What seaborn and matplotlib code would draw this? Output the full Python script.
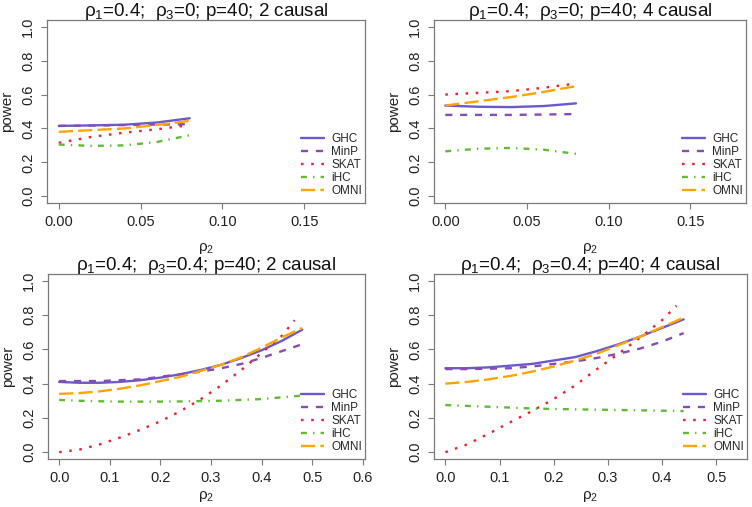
import matplotlib
matplotlib.use("Agg")
import matplotlib.pyplot as plt
import numpy as np
import pandas as pd
import seaborn as sns
from matplotlib.lines import Line2D

# ---------------- data ----------------
methods = ["GHC", "MinP", "SKAT", "iHC", "OMNI"]

# panel 1: rho1=0.4, rho3=0, 2 causal
p1_x = [0.00, 0.02, 0.04, 0.06, 0.08]
p1_ghc = [0.415, 0.418, 0.422, 0.435, 0.460]
p1_minp = [0.415, 0.417, 0.420, 0.423, 0.425]
p1_skat = [0.315, 0.350, 0.375, 0.395, 0.420]
p1_ihc = [0.305, 0.297, 0.300, 0.320, 0.360]
p1_omni = [0.380, 0.390, 0.400, 0.420, 0.445]

# panel 2: rho1=0.4, rho3=0, 4 causal
p2_x = [0.00, 0.02, 0.04, 0.06, 0.08]
p2_ghc = [0.535, 0.528, 0.526, 0.532, 0.548]
p2_minp = [0.480, 0.480, 0.480, 0.482, 0.485]
p2_skat = [0.600, 0.610, 0.620, 0.640, 0.665]
p2_ihc = [0.265, 0.280, 0.285, 0.275, 0.250]
p2_omni = [0.535, 0.560, 0.585, 0.615, 0.650]

# panel 3: rho1=0.4, rho3=0.4, 2 causal
p3_x = [0.00, 0.04, 0.08, 0.12, 0.16, 0.20, 0.24, 0.28, 0.32, 0.36, 0.40, 0.44, 0.48]
p3_ghc = [0.410, 0.405, 0.405, 0.410, 0.420, 0.435, 0.455, 0.480, 0.510, 0.550, 0.595, 0.650, 0.715]
p3_minp = [0.415, 0.415, 0.415, 0.420, 0.425, 0.440, 0.455, 0.470, 0.490, 0.515, 0.550, 0.590, 0.630]
p3_ihc = [0.305, 0.300, 0.297, 0.295, 0.295, 0.295, 0.296, 0.298, 0.300, 0.305, 0.310, 0.320, 0.330]
p3_omni = [0.340, 0.345, 0.355, 0.370, 0.390, 0.415, 0.440, 0.475, 0.510, 0.555, 0.610, 0.670, 0.725]
p3_skat_x = [0.00, 0.04, 0.08, 0.12, 0.16, 0.20, 0.24, 0.28, 0.32, 0.36, 0.40, 0.44, 0.465]
p3_skat = [0.000, 0.015, 0.045, 0.085, 0.130, 0.180, 0.240, 0.310, 0.390, 0.480, 0.580, 0.680, 0.770]

# panel 4: rho1=0.4, rho3=0.4, 4 causal
p4_x = [0.00, 0.04, 0.08, 0.12, 0.16, 0.20, 0.24, 0.28, 0.32, 0.36, 0.40, 0.44]
p4_ghc = [0.490, 0.490, 0.495, 0.505, 0.515, 0.535, 0.555, 0.590, 0.630, 0.675, 0.725, 0.775]
p4_minp = [0.485, 0.485, 0.487, 0.490, 0.500, 0.515, 0.530, 0.550, 0.575, 0.605, 0.645, 0.695]
p4_ihc = [0.275, 0.270, 0.265, 0.260, 0.255, 0.252, 0.250, 0.248, 0.246, 0.244, 0.242, 0.240]
p4_omni = [0.400, 0.410, 0.425, 0.445, 0.470, 0.500, 0.535, 0.575, 0.625, 0.675, 0.730, 0.785]
p4_skat_x = [0.00, 0.04, 0.08, 0.12, 0.16, 0.20, 0.24, 0.28, 0.32, 0.36, 0.40, 0.427]
p4_skat = [0.000, 0.045, 0.108, 0.175, 0.240, 0.310, 0.390, 0.485, 0.575, 0.670, 0.770, 0.855]

titles = [
    r"$\rho_1$=0.4;  $\rho_3$=0; p=40; 2 causal",
    r"$\rho_1$=0.4;  $\rho_3$=0; p=40; 4 causal",
    r"$\rho_1$=0.4;  $\rho_3$=0.4; p=40; 2 causal",
    r"$\rho_1$=0.4;  $\rho_3$=0.4; p=40; 4 causal",
]
top_xticks = [0.00, 0.05, 0.10, 0.15]
top_xticklabels = ["0.00", "0.05", "0.10", "0.15"]
p3_xticks = [0.0, 0.1, 0.2, 0.3, 0.4, 0.5, 0.6]
p3_xticklabels = ["0.0", "0.1", "0.2", "0.3", "0.4", "0.5", "0.6"]
p4_xticks = [0.0, 0.1, 0.2, 0.3, 0.4, 0.5]
p4_xticklabels = ["0.0", "0.1", "0.2", "0.3", "0.4", "0.5"]
yticks = [0.0, 0.2, 0.4, 0.6, 0.8, 1.0]
yticklabels = ["0.0", "0.2", "0.4", "0.6", "0.8", "1.0"]

# ---------------- style ----------------
sns.set_theme(style="white")
plt.rcParams["font.family"] = ["Liberation Sans", "DejaVu Sans"]
plt.rcParams["mathtext.fontset"] = "custom"
plt.rcParams["mathtext.rm"] = "Liberation Sans"
plt.rcParams["mathtext.it"] = "Liberation Sans"
plt.rcParams["mathtext.bf"] = "Liberation Sans:bold"

palette = {"GHC": "#6A5ACD", "MinP": "#8B4BB5", "SKAT": "#E8262D",
           "iHC": "#62BB35", "OMNI": "#FFA500"}
dash_map = {"GHC": "", "MinP": (3, 3.3), "SKAT": (1.1, 3.2),
            "iHC": (2.5, 2.6, 0.6, 2.6), "OMNI": (6, 2.2)}
LW = 1.7
spine_col = "#7a7a7a"

W, H = 752, 507
fig = plt.figure(figsize=(W / 100, H / 100), dpi=100)


def box(l, r, t, b):
    return [l / W, (H - b) / H, (r - l) / W, (b - t) / H]


def make_df(x, ghc, minp, skat_x, skat, ihc, omni):
    rows = []
    for m, xs, ys in [("GHC", x, ghc), ("MinP", x, minp), ("SKAT", skat_x, skat),
                      ("iHC", x, ihc), ("OMNI", x, omni)]:
        for a, b in zip(xs, ys):
            rows.append({"method": m, "rho2": a, "power": b})
    return pd.DataFrame(rows)


panels = [
    dict(rect=box(47, 365, 20, 203), xlim=(-0.0072, 0.1872), xt=top_xticks, xtl=top_xticklabels,
         xlab_y=248, df=make_df(p1_x, p1_ghc, p1_minp, p1_x, p1_skat, p1_ihc, p1_omni)),
    dict(rect=box(434, 746, 20, 203), xlim=(-0.0069, 0.1840), xt=top_xticks, xtl=top_xticklabels,
         xlab_y=248, df=make_df(p2_x, p2_ghc, p2_minp, p2_x, p2_skat, p2_ihc, p2_omni)),
    dict(rect=box(48, 365, 274, 459), xlim=(-0.022, 0.604), xt=p3_xticks, xtl=p3_xticklabels,
         xlab_y=497, df=make_df(p3_x, p3_ghc, p3_minp, p3_skat_x, p3_skat, p3_ihc, p3_omni)),
    dict(rect=box(434, 747, 274, 459), xlim=(-0.021, 0.557), xt=p4_xticks, xtl=p4_xticklabels,
         xlab_y=497, df=make_df(p4_x, p4_ghc, p4_minp, p4_skat_x, p4_skat, p4_ihc, p4_omni)),
]

for i, p in enumerate(panels):
    ax = fig.add_axes(p["rect"])
    sns.lineplot(data=p["df"], x="rho2", y="power", hue="method", style="method",
                 hue_order=methods, style_order=methods, palette=palette,
                 dashes=dash_map, estimator=None, sort=False, lw=LW,
                 legend=False, ax=ax)
    ax.set_xlim(*p["xlim"])
    ax.set_ylim(-0.04, 1.04)
    ax.set_xticks(p["xt"])
    ax.set_xticklabels(p["xtl"])
    ax.set_yticks(yticks)
    ax.set_yticklabels(yticklabels, rotation=90, va="center")
    ax.tick_params(axis="both", which="major", direction="out", length=4.5, width=0.8,
                   color=spine_col, labelsize=10.5, labelcolor="#222222", pad=4,
                   bottom=True, left=True)
    for s in ax.spines.values():
        s.set_color(spine_col)
        s.set_linewidth(0.9)
    ax.set_title(titles[i], fontsize=13.5, pad=3, color="#111111")

    w_ax = p["rect"][2] * W
    h_ax = p["rect"][3] * H
    bottom_px = H - p["rect"][1] * H
    ax.set_xlabel(r"$\rho_2$", fontsize=11, color="#222222")
    ax.xaxis.label.set_va("center")
    ax.xaxis.set_label_coords(0.5, -(p["xlab_y"] - bottom_px) / h_ax)
    ax.set_ylabel("power", fontsize=11, color="#222222")
    ax.yaxis.label.set_va("center")
    ax.yaxis.set_label_coords(-40 / w_ax, 0.5)
    ax.grid(False)

    handles = [Line2D([0], [0], color=palette[m], lw=LW, dashes=dash_map[m]) for m in methods]
    ax.legend(handles, methods, loc="lower right", frameon=False, fontsize=8.5,
              handlelength=1.9, handletextpad=0.65, labelspacing=0.08,
              borderpad=0, borderaxespad=0,
              bbox_to_anchor=(1 - 3 / w_ax, 6 / h_ax))

fig.savefig("out.png", dpi=100)
